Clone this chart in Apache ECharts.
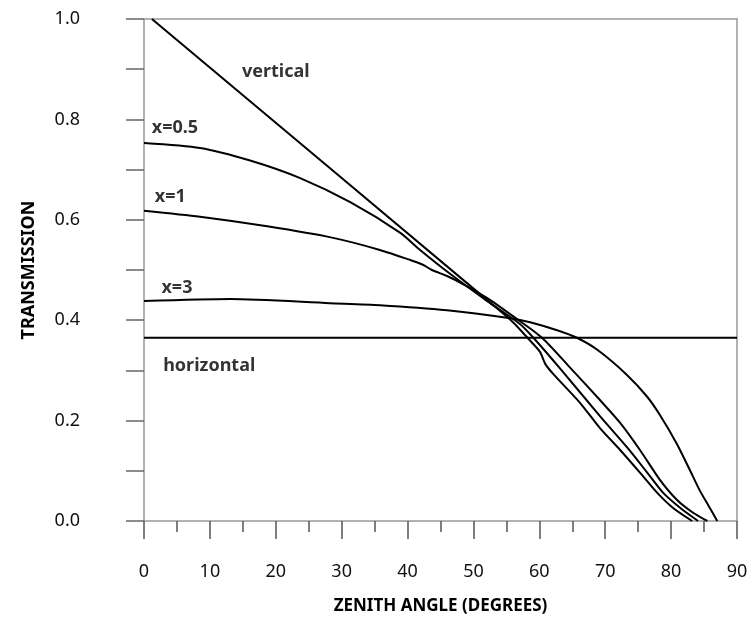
<!DOCTYPE html>
<html>
<head>
<meta charset="utf-8">
<script src="https://cdn.jsdelivr.net/npm/echarts@6/dist/echarts.min.js"></script>
<style>html,body{margin:0;padding:0;background:#fff}#c{width:756px;height:620px}</style>
</head>
<body>
<div id="c"></div>
<script>
// Zenith angle (degrees) / transmission pairs
const verticalAngle = [1.2, 52.1, 56.0, 58.2, 60.1, 60.9, 62.1, 66.2, 69.2, 72.3, 75.3, 77.9, 80.3, 83.2];
const verticalT     = [1.0, 0.440, 0.396, 0.365, 0.337, 0.313, 0.293, 0.235, 0.185, 0.141, 0.096, 0.056, 0.026, 0.0];

const x05Angle = [0, 8.5, 16.1, 23.7, 31.3, 38.9, 41.9, 46.5, 52.1, 57.1, 59.1, 63.2, 69.2, 73.3, 76.4, 78.8, 81.4, 84.1];
const x05T     = [0.753, 0.743, 0.718, 0.683, 0.635, 0.574, 0.540, 0.492, 0.438, 0.392, 0.365, 0.303, 0.209, 0.147, 0.096, 0.056, 0.026, 0.0];

const x1Angle = [0, 8.5, 18.7, 28.7, 35.8, 40.4, 42.4, 43.7, 46.0, 48.4, 52.1, 56.0, 60.4, 64.7, 69.2, 72.3, 75.3, 78.3, 80.9, 83.4, 85.5];
const x1T     = [0.618, 0.606, 0.587, 0.564, 0.540, 0.520, 0.510, 0.500, 0.488, 0.472, 0.444, 0.408, 0.365, 0.305, 0.241, 0.195, 0.141, 0.082, 0.042, 0.016, 0.0];

const x3Angle = [0, 13.1, 28.2, 35.8, 46.0, 55.6, 58.6, 62.7, 65.7, 68.8, 73.3, 76.4, 78.3, 80.9, 82.9, 84.3, 85.7, 87.0];
const x3T     = [0.438, 0.442, 0.434, 0.430, 0.420, 0.404, 0.396, 0.380, 0.365, 0.341, 0.291, 0.247, 0.211, 0.153, 0.100, 0.062, 0.030, 0.0];

const horizontalAngle = [0, 90];
const horizontalT     = [0.365, 0.365];

// Curve labels (text and data-space anchor)
const labelText  = ['vertical', 'x=0.5', 'x=1', 'x=3', 'horizontal'];
const labelAngle = [20.0, 4.7, 4.0, 5.0, 9.9];
const labelT     = [0.894, 0.783, 0.645, 0.464, 0.309];

const xTicks = [0, 10, 20, 30, 40, 50, 60, 70, 80, 90];
const yTicks = [0, 0.2, 0.4, 0.6, 0.8, 1.0];

const zip = (a, b) => a.map((v, i) => [v, b[i]]);
const FONT = 'Noto Sans';
const lineStyle = { color: '#000', width: 2 };

function lineSeries(name, a, t) {
  return { name, type: 'line', data: zip(a, t), showSymbol: false, symbol: 'none',
    smooth: 0.25, lineStyle, xAxisIndex: 0, yAxisIndex: 0, silent: true, z: 3 };
}

const chart = echarts.init(document.getElementById('c'), null, { renderer: 'canvas' });
chart.setOption({
  animation: false,
  backgroundColor: '#fff',
  grid: { left: 144, right: 19, top: 19, bottom: 99, containLabel: false },
  xAxis: [{
    type: 'value', min: 0, max: 90, interval: 10,
    name: 'ZENITH ANGLE (DEGREES)', nameLocation: 'middle', nameGap: 77,
    nameTextStyle: { fontFamily: FONT, fontWeight: 'bold', fontSize: 17, color: '#000' },
    axisLine: { show: true, onZero: false, lineStyle: { color: '#999', width: 1.5 } },
    axisTick: { show: true, length: 18, lineStyle: { color: '#555', width: 1.5 } },
    minorTick: { show: true, splitNumber: 2, length: 11, lineStyle: { color: '#555', width: 1.5 } },
    axisLabel: { margin: 42, fontFamily: FONT, fontSize: 18, color: '#111',
      formatter: v => xTicks.includes(v) ? String(v) : '' },
    splitLine: { show: false }
  }, {
    type: 'value', min: 0, max: 90, position: 'top',
    axisLine: { show: true, onZero: false, lineStyle: { color: '#999', width: 1.5 } },
    axisTick: { show: false }, axisLabel: { show: false }, splitLine: { show: false }
  }],
  yAxis: [{
    type: 'value', min: 0, max: 1, interval: 0.1,
    name: 'TRANSMISSION', nameLocation: 'middle', nameGap: 106, nameRotate: 90,
    nameTextStyle: { fontFamily: FONT, fontWeight: 'bold', fontSize: 18, color: '#000' },
    axisLine: { show: true, onZero: false, lineStyle: { color: '#999', width: 1.5 } },
    axisTick: { show: true, length: 18, lineStyle: { color: '#666', width: 1.5 } },
    axisLabel: { margin: 64, fontFamily: FONT, fontSize: 18, color: '#111', align: 'right',
      formatter: v => yTicks.some(t => Math.abs(t - v) < 1e-6) ? v.toFixed(1) : '' },
    splitLine: { show: false }
  }, {
    type: 'value', min: 0, max: 1, position: 'right',
    axisLine: { show: true, onZero: false, lineStyle: { color: '#999', width: 1.5 } },
    axisTick: { show: false }, axisLabel: { show: false }, splitLine: { show: false }
  }],
  series: [
    lineSeries('vertical', verticalAngle, verticalT),
    lineSeries('x=0.5', x05Angle, x05T),
    lineSeries('x=1', x1Angle, x1T),
    lineSeries('x=3', x3Angle, x3T),
    Object.assign(lineSeries('horizontal', horizontalAngle, horizontalT), { smooth: false }),
    {
      name: 'labels', type: 'scatter', symbolSize: 1, itemStyle: { color: 'rgba(0,0,0,0)' },
      data: labelText.map((t, i) => ({ value: [labelAngle[i], labelT[i]], name: t })),
      label: { show: true, position: 'inside', formatter: p => p.name,
        fontFamily: FONT, fontWeight: 'bold', fontSize: 18, color: '#000' },
      silent: true, z: 5
    }
  ]
});
</script>
</body>
</html>
